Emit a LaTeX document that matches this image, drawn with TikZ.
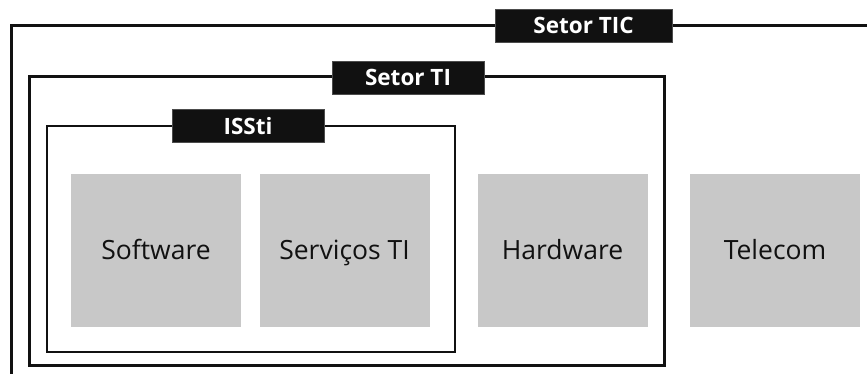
\documentclass[tikz,border=0pt]{standalone}
\usepackage{fontspec}
\setmainfont{Open Sans}
\usepackage{xcolor}
\usepackage{tikz}

\definecolor{boxgray}{HTML}{C8C8C8}
\definecolor{inkblack}{HTML}{111111}

\tikzset{
  sector/.style={fill=boxgray, draw=none, minimum width=170pt, minimum height=153pt,
    inner sep=0pt, text=inkblack, text height=19pt, text depth=2pt,
    font=\fontsize{26.5}{30}\selectfont},
  tag/.style={fill=inkblack, draw=black!70, line width=0.5pt, text=white, inner sep=0pt,
    minimum height=33pt, font=\fontsize{22.5}{26}\selectfont\bfseries},
  frame/.style={draw=inkblack, line width=3pt}
}

\begin{document}
\begin{tikzpicture}[x=1pt, y=-1pt]
\useasboundingbox (0,0) rectangle (867,374);
\clip (0,0) rectangle (867,374);

% frames
\draw[frame] (11,26) rectangle (900,400);
\draw[frame] (29,77) rectangle (664,365);
\draw[frame, line width=2pt] (47,126) rectangle (455,352);

% segments
\node[sector] (soft) at (156,250.5) {Software};
\node[sector] (serv) at (344.5,250.5) {Serviços TI};
\node[sector] (hard) at (562.5,250.5) {Hardware};
\node[sector] (tele) at (775,250.5) {Telecom};

% labels
\node[tag, minimum width=177pt] (tic) at (583.5,25.5) {Setor TIC};
\node[tag, minimum width=152pt] (ti) at (408,77.5) {Setor TI};
\node[tag, minimum width=152pt] (issti) at (248,126) {ISSti};
\end{tikzpicture}
\end{document}
